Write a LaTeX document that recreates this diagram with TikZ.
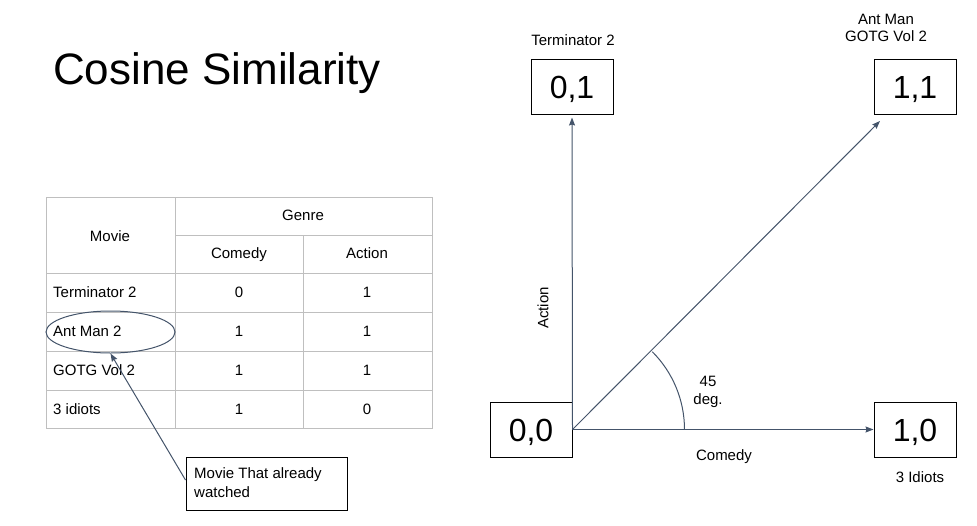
\documentclass[tikz,border=0pt]{standalone}
\usepackage{fontspec}
\setmainfont{Liberation Sans}
\usetikzlibrary{arrows.meta,shapes.geometric}
\definecolor{conn}{HTML}{44546A}
\definecolor{grid}{HTML}{BFBFBF}
\tikzset{
  mtxt/.style={inner sep=0pt, font=\fontsize{15}{18}\selectfont},
  txt/.style={mtxt, text height=10.7pt, text depth=0pt},
  valbox/.style={draw=black, line width=1pt, minimum width=82pt, minimum height=55pt, inner sep=0pt, text height=23pt, text depth=0pt, font=\fontsize{32}{36}\selectfont},
  vec/.style={draw=conn, line width=1pt, -{Stealth[length=8pt,width=6pt,inset=1pt]}},
  gridline/.style={draw=grid, line width=1pt}
}
\begin{document}
\begin{tikzpicture}[x=1pt,y=-1pt]
\useasboundingbox (0,0) rectangle (977,525);
% title
\node[inner sep=0pt, anchor=base west, font=\fontsize{44}{50}\selectfont] (title) at (53,84) {Cosine Similarity};
% table
\draw[gridline] (46,197) rectangle (432,428);
\draw[gridline] (175,197) -- (175,428);
\draw[gridline] (303,235) -- (303,428);
\draw[gridline] (175,235) -- (432,235);
\foreach \yy in {273,312,351,390} \draw[gridline] (46,\yy) -- (432,\yy);
\node[txt] (genre) at (303,215) {Genre};
\node[txt] (movie) at (110,236) {Movie};
\node[txt] (comedyh) at (239,253) {Comedy};
\node[txt] (actionh) at (367,253) {Action};
\node[txt, anchor=west] (r1) at (53,292.5) {Terminator 2};
\node[txt, anchor=west] (r2) at (53,331.5) {Ant Man 2};
\node[txt, anchor=west] (r3) at (53,370.5) {GOTG Vol 2};
\node[txt, anchor=west] (r4) at (53,409) {3 idiots};
\node[txt] (c1) at (239,292.5) {0};
\node[txt] (a1) at (367,292.5) {1};
\node[txt] (c2) at (239,331.5) {1};
\node[txt] (a2) at (367,331.5) {1};
\node[txt] (c3) at (239,370.5) {1};
\node[txt] (a3) at (367,370.5) {1};
\node[txt] (c4) at (239,409) {1};
\node[txt] (a4) at (367,409) {0};
% ellipse and callout
\node[ellipse, draw=conn, line width=1pt, minimum width=129pt, minimum height=42pt, inner sep=0pt] (ell) at (110.5,332) {};
\node[draw=black, line width=1pt, minimum width=161pt, minimum height=53pt, inner sep=0pt] (call) at (266.5,483.5) {};
\node[mtxt, anchor=base west, align=left, font=\fontsize{15}{19}\selectfont] (calltxt) at (194,497.5) {Movie That already\\watched};
\draw[vec] ([yshift=3.5pt]call.west) -- (ell.south);
% vector boxes
\node[valbox] (n00) at (531,429.5) {0,0};
\node[valbox] (n10) at (915,429.5) {1,0};
\node[valbox] (n01) at (572,86.5) {0,1};
\node[valbox] (n11) at (915,86.5) {1,1};
\coordinate (tip11) at (880,121);
% vectors
\draw[vec] (n00.east) -- (n10.west);
\draw[vec, shorten >=3pt] (n00.east) -- (n01.south);
\draw[vec] (n00.east) -- (tip11);
\draw[draw=conn, line width=1pt] (n00.east) ++(112pt,0pt) arc[start angle=0, end angle=45, radius=110pt];
% labels
\node[txt] (l45) at (708,381) {45};
\node[txt] (ldeg) at (708,399) {deg.};
\node[txt] (lcom) at (724,455) {Comedy};
\node[txt] (lidi) at (920,477) {3 Idiots};
\node[txt, rotate=90] (lact) at (543,308) {Action};
\node[txt] (lterm) at (573,40) {Terminator 2};
\node[mtxt, anchor=base, align=center, font=\fontsize{15}{17}\selectfont] (lant) at (886,41.5) {Ant Man\\GOTG Vol 2};
\end{tikzpicture}
\end{document}
